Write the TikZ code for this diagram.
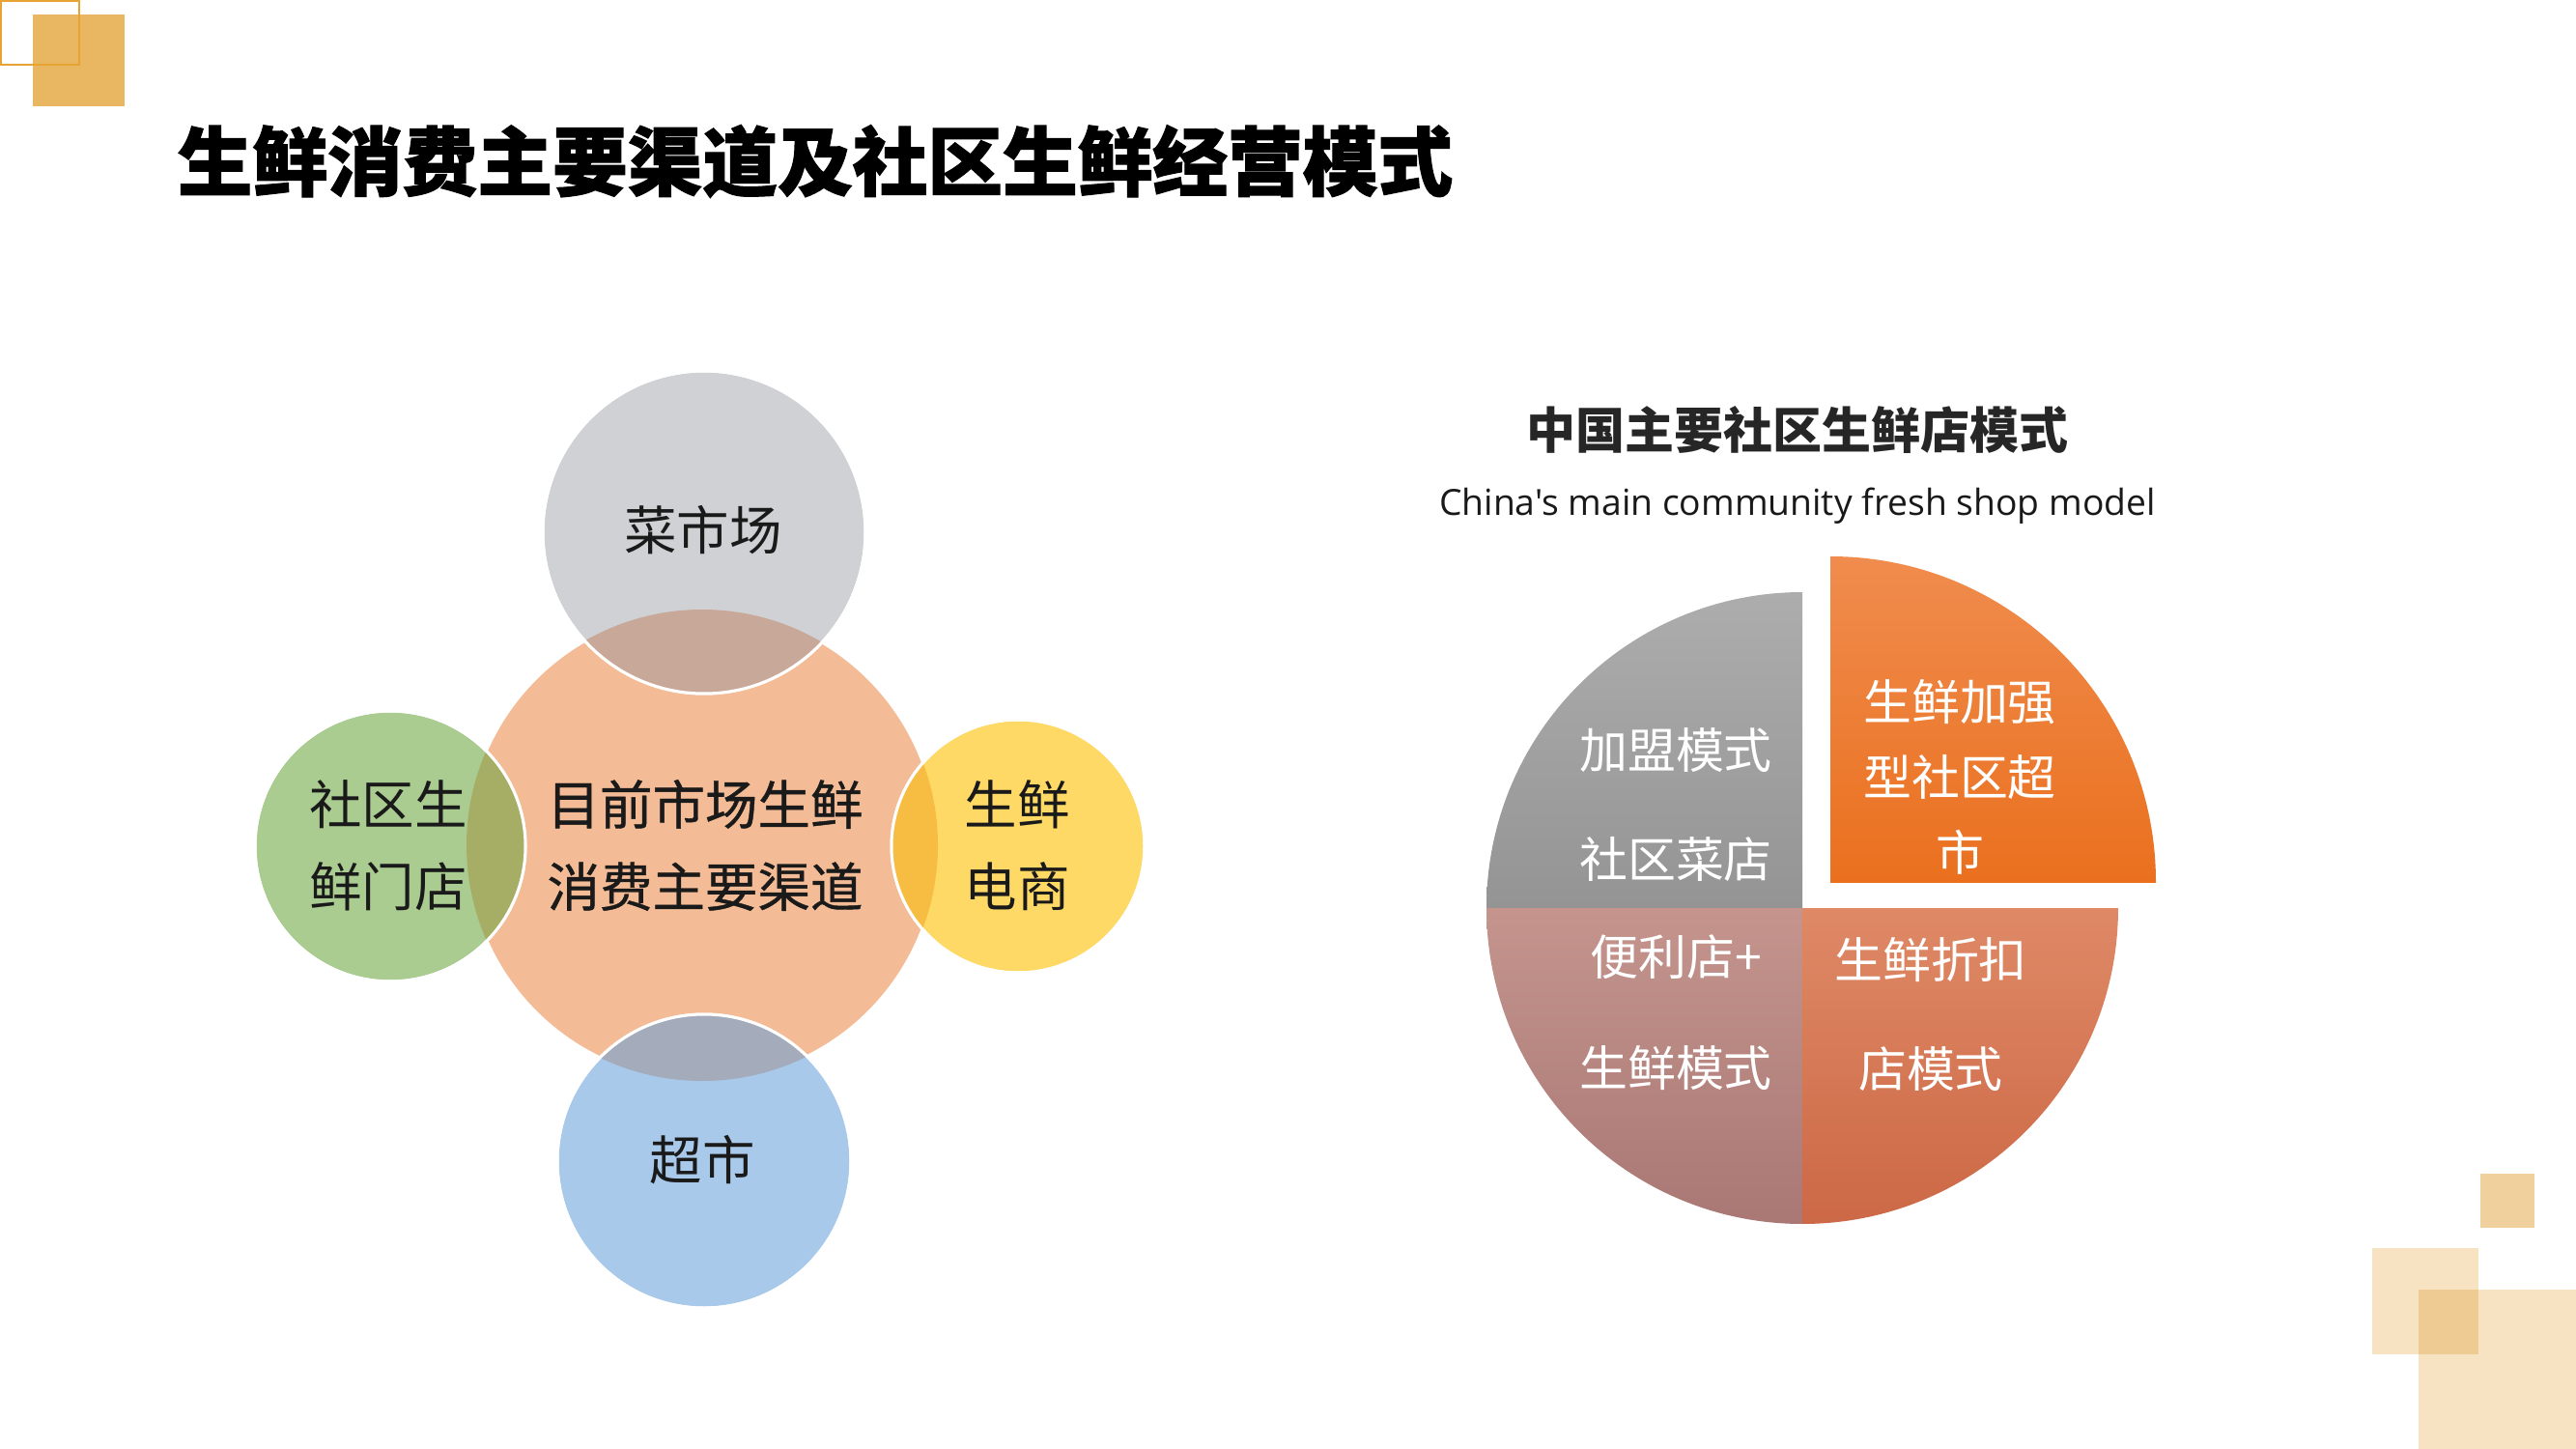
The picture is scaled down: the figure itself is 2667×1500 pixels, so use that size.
\documentclass[tikz,border=0pt]{standalone}
\usepackage{fontspec}
\setmainfont{Open Sans}
\newfontfamily\cjk{Noto Sans CJK SC}
\newfontfamily\cjkmed{Noto Sans CJK SC}[FakeBold=0.8]
\newfontfamily\cjkheavy{Noto Sans CJK SC}[FakeBold=1.5]
\newfontfamily\latin{Open Sans}
\definecolor{decoA}{HTML}{E9B762}
\definecolor{decoB}{HTML}{E8A432}
\definecolor{decoL}{HTML}{F7E2C2}
\definecolor{decoM}{HTML}{EFCB94}
\definecolor{decoS}{HTML}{F0D09C}
\definecolor{peach}{HTML}{F4BC96}
\definecolor{vgray}{HTML}{CFD1D4}
\definecolor{vgrayov}{HTML}{C8A899}
\definecolor{vgreen}{HTML}{AACC91}
\definecolor{vgreenov}{HTML}{A5AE64}
\definecolor{vyellow}{HTML}{FED966}
\definecolor{vyellowov}{HTML}{F7BC42}
\definecolor{vblue}{HTML}{A9C9EA}
\definecolor{vblueov}{HTML}{A4ABBA}
\definecolor{txtdark}{HTML}{1A1A1A}
\definecolor{pgA}{HTML}{ADADAD}
\definecolor{pgB}{HTML}{949494}
\definecolor{poA}{HTML}{F08C4E}
\definecolor{poB}{HTML}{EA701E}
\definecolor{prA}{HTML}{C4948D}
\definecolor{prB}{HTML}{A97875}
\definecolor{pbA}{HTML}{DF8966}
\definecolor{pbB}{HTML}{CC6845}
\tikzset{
  venn/.style={circle, inner sep=0pt, draw=white, line width=0.3mm},
  ring/.style={draw=white, line width=0.3mm},
  lbl/.style={font=\cjk\fontsize{15.5pt}{24.2pt}\selectfont, text=txtdark, align=center, inner sep=0pt},
  midlbl/.style={lbl, font=\cjkmed\fontsize{15.5pt}{24.2pt}\selectfont},
  plbl/.style={font=\cjk\fontsize{14.2pt}{31.9pt}\selectfont, text=white, align=center, inner sep=0pt},
}
\begin{document}
\begin{tikzpicture}[x=0.1mm,y=-0.1mm]
\useasboundingbox (0,0) rectangle (2667,1500);
\fill[white] (0,0) rectangle (2667,1500);

% decorations
\fill[decoA] (34,15) rectangle (129,110);
\draw[decoB, line width=0.25mm] (1.25,1.25) rectangle (82,67);
\fill[decoL] (2456,1292) rectangle (2566,1402);
\fill[decoL] (2504,1335) rectangle (2667,1500);
\fill[decoM] (2504,1335) rectangle (2566,1402);
\fill[decoS] (2568,1215) rectangle (2624,1271);

% title
\node[anchor=west, inner sep=0pt, font=\cjkheavy\bfseries\fontsize{22.1pt}{26pt}\selectfont] (title) at (183,167) {生鲜消费主要渠道及社区生鲜经营模式};

% venn-like diagram
\node[venn, fill=peach, minimum size=48.8mm] (mid) at (727,875) {};
\node[venn, fill=vgray, minimum size=33.4mm] (top) at (729,551) {};
\node[venn, fill=vgreen, minimum size=28mm] (left) at (404,876) {};
\node[venn, fill=vyellow, minimum size=26.2mm] (right) at (1054,876) {};
\node[venn, fill=vblue, minimum size=30.4mm] (bottom) at (729,1202) {};
\begin{scope}
  \clip (mid.center) circle[radius=24.4mm];
  \fill[vgrayov] (top.center) circle[radius=16.7mm];
  \fill[vgreenov] (left.center) circle[radius=14mm];
  \fill[vyellowov] (right.center) circle[radius=13.1mm];
  \fill[vblueov] (bottom.center) circle[radius=15.2mm];
\end{scope}
\draw[ring] (top.center) circle[radius=16.7mm];
\draw[ring] (left.center) circle[radius=14mm];
\draw[ring] (right.center) circle[radius=13.1mm];
\draw[ring] (bottom.center) circle[radius=15.2mm];

\node[lbl] (ttop) at (728,549) {菜市场};
\node[midlbl] (tmid) at (730,875) {目前市场生鲜\\消费主要渠道};
\node[lbl] (tleft) at (402,875) {社区生\\鲜门店};
\node[lbl] (tright) at (1053,875) {生鲜\\电商};
\node[lbl] (tbottom) at (727,1201) {超市};

% pie chart
\node[inner sep=0pt, font=\cjk\bfseries\fontsize{14.5pt}{16pt}\selectfont, text=black!85] (ptitle) at (1861,445) {中国主要社区生鲜店模式};
\node[inner sep=0pt, font=\latin\fontsize{10.6pt}{12pt}\selectfont, text=black!90] (psub) at (1861,524) {China's main community fresh shop model};

\coordinate (pc) at (1866,940);
\coordinate (po) at (1895,913);
\begin{scope}
  \clip (pc) circle[radius=32.7mm];
  \shade[top color=pgA, bottom color=pgB] (1530,612) rectangle (1866,940);
  \shade[top color=prA, bottom color=prB] (1530,940) rectangle (1866,1268);
  \shade[top color=pbA, bottom color=pbB] (1866,940) rectangle (2200,1268);
\end{scope}
\begin{scope}
  \clip (po) circle[radius=33.7mm];
  \shade[top color=poA, bottom color=poB] (1895,575) rectangle (2240,913);
\end{scope}

\node[plbl] (pgray) at (1735,833) {加盟模式\\社区菜店};
\node[plbl, font=\cjk\fontsize{14.2pt}{22.2pt}\selectfont] (porange) at (2029,804) {生鲜加强\\型社区超\\市};
\node[plbl, font=\cjk\fontsize{14.2pt}{32.7pt}\selectfont] (prose) at (1735,1048) {便利店+\\生鲜模式};
\node[plbl] (pbr) at (1999,1050) {生鲜折扣\\店模式};
\end{tikzpicture}
\end{document}
